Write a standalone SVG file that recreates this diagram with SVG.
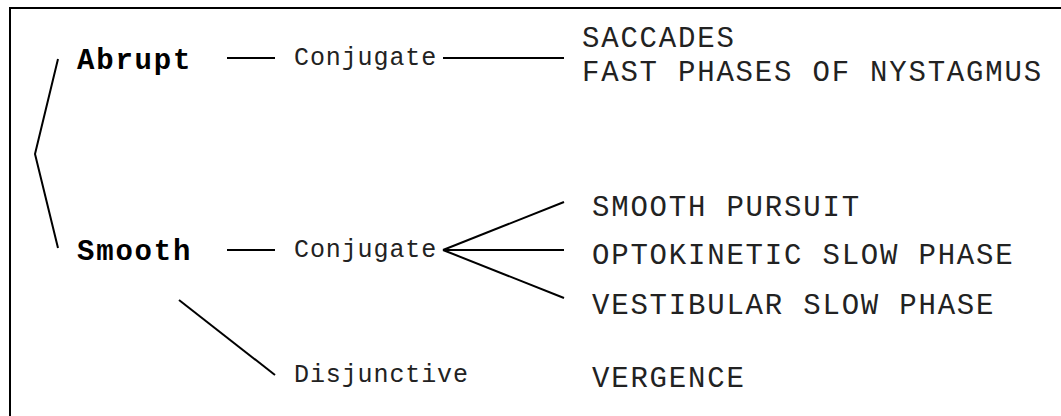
<svg xmlns="http://www.w3.org/2000/svg" width="1061" height="416" viewBox="0 0 1061 416">
  <style>
    .bold { font-family: "Liberation Mono", "Courier New", monospace; font-size: 29px; letter-spacing: 1.8px; font-weight: bold; fill: #000; }
    .mid { font-family: "Liberation Mono", "Courier New", monospace; font-size: 25px; letter-spacing: 0.9px; fill: #222; }
    .big { font-family: "Liberation Mono", "Courier New", monospace; font-size: 29px; letter-spacing: 1.8px; fill: #222; }
    .ln { stroke: #000; stroke-width: 2; fill: none; }
  </style>
  <rect x="0" y="0" width="1061" height="416" fill="#fff"/>
  <rect x="10" y="8" width="1100" height="500" fill="none" stroke="#000" stroke-width="2"/>
  <g id="connectors">
    <polyline class="ln" points="58,59 35,154 58,248"/>
    <line class="ln" x1="227" y1="58" x2="275" y2="58"/>
    <line class="ln" x1="443" y1="58" x2="564" y2="58"/>
    <line class="ln" x1="227" y1="250" x2="275" y2="250"/>
    <line class="ln" x1="443" y1="250" x2="564" y2="202"/>
    <line class="ln" x1="443" y1="250" x2="564" y2="250"/>
    <line class="ln" x1="443" y1="250" x2="564" y2="298"/>
    <line class="ln" x1="179" y1="300" x2="275" y2="375"/>
  </g>
  <g id="abrupt"><text class="bold" x="77" y="69">Abrupt</text></g>
  <g id="smooth"><text class="bold" x="77" y="260">Smooth</text></g>
  <g id="conj-abrupt"><text class="mid" x="294" y="65">Conjugate</text></g>
  <g id="conj-smooth"><text class="mid" x="294" y="257">Conjugate</text></g>
  <g id="disjunctive"><text class="mid" x="294" y="382">Disjunctive</text></g>
  <g id="saccades">
    <text class="big" x="582" y="47">SACCADES</text>
    <text class="big" x="582" y="81">FAST PHASES OF NYSTAGMUS</text>
  </g>
  <g id="pursuit"><text class="big" x="592" y="216">SMOOTH PURSUIT</text></g>
  <g id="optokinetic"><text class="big" x="592" y="264">OPTOKINETIC SLOW PHASE</text></g>
  <g id="vestibular"><text class="big" x="592" y="314">VESTIBULAR SLOW PHASE</text></g>
  <g id="vergence"><text class="big" x="592" y="387">VERGENCE</text></g>
</svg>
